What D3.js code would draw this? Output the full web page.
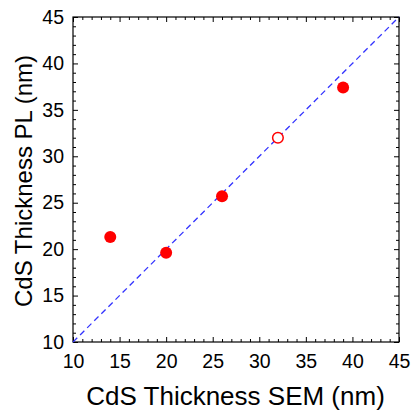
<!DOCTYPE html>
<html>
<head>
<meta charset="utf-8">
<script src="https://cdn.jsdelivr.net/npm/d3@7/dist/d3.min.js"></script>
<style>
  body { margin: 0; background: #fff; }
  svg text { font-family: "Liberation Sans", Arial, sans-serif; fill: #000; }
</style>
</head>
<body>
<div id="chart"></div>
<script>
// measured points, SEM vs PL thickness (nm)
var semThickness = [14, 20, 26, 32, 39];
var plThickness = [21.3, 19.6, 25.7, 32, 37.4];
var isOpen = [false, false, false, true, false];
var tickValues = [10, 15, 20, 25, 30, 35, 40, 45];
var axisRange = [10, 45];

var width = 412, height = 413;
var margin = {left: 73, right: 13, top: 17, bottom: 71};

var svg = d3.select('#chart').append('svg')
    .attr('width', width)
    .attr('height', height);

var x = d3.scaleLinear().domain(axisRange).range([margin.left, width - margin.right]);
var y = d3.scaleLinear().domain(axisRange).range([height - margin.bottom, margin.top]);

var minorTicks = d3.range(axisRange[0], axisRange[1] + 1, 1).filter(d => d % 5 != 0);

// axes - ticks point inward on all sides
function styleAxis(g){
    g.select('.domain').remove();
    g.selectAll('line').attr('stroke', '#000').attr('stroke-width', 1);
}

var bottomY = height - margin.bottom, rightX = width - margin.right;

svg.append('g').attr('transform', 'translate(0,' + bottomY + ')')
    .call(d3.axisBottom(x).tickValues(tickValues).tickSizeInner(-5).tickSizeOuter(0).tickPadding(12))
    .call(styleAxis)
    .call(g => g.selectAll('text').attr('font-size', '19.5px'));
svg.append('g').attr('transform', 'translate(0,' + bottomY + ')')
    .call(d3.axisBottom(x).tickValues(minorTicks).tickSizeInner(-3).tickSizeOuter(0).tickFormat(''))
    .call(styleAxis);

svg.append('g').attr('transform', 'translate(' + margin.left + ',0)')
    .call(d3.axisLeft(y).tickValues(tickValues).tickSizeInner(-5).tickSizeOuter(0).tickPadding(9))
    .call(styleAxis)
    .call(g => g.selectAll('text').attr('font-size', '19.5px'));
svg.append('g').attr('transform', 'translate(' + margin.left + ',0)')
    .call(d3.axisLeft(y).tickValues(minorTicks).tickSizeInner(-3).tickSizeOuter(0).tickFormat(''))
    .call(styleAxis);

svg.append('g').attr('transform', 'translate(0,' + margin.top + ')')
    .call(d3.axisTop(x).tickValues(tickValues).tickSizeInner(-5).tickSizeOuter(0).tickFormat(''))
    .call(styleAxis);
svg.append('g').attr('transform', 'translate(0,' + margin.top + ')')
    .call(d3.axisTop(x).tickValues(minorTicks).tickSizeInner(-3).tickSizeOuter(0).tickFormat(''))
    .call(styleAxis);

svg.append('g').attr('transform', 'translate(' + rightX + ',0)')
    .call(d3.axisRight(y).tickValues(tickValues).tickSizeInner(-5).tickSizeOuter(0).tickFormat(''))
    .call(styleAxis);
svg.append('g').attr('transform', 'translate(' + rightX + ',0)')
    .call(d3.axisRight(y).tickValues(minorTicks).tickSizeInner(-3).tickSizeOuter(0).tickFormat(''))
    .call(styleAxis);

// frame
svg.append('rect')
    .attr('x', margin.left).attr('y', margin.top)
    .attr('width', rightX - margin.left).attr('height', bottomY - margin.top)
    .attr('fill', 'none').attr('stroke', '#000').attr('stroke-width', 1.2);

// y = x reference line
svg.append('line')
    .attr('x1', x(axisRange[0])).attr('y1', y(axisRange[0]))
    .attr('x2', x(axisRange[1])).attr('y2', y(axisRange[1]))
    .attr('stroke', '#3333ff').attr('stroke-width', 1.3)
    .attr('stroke-dasharray', '6,4');

// points
var pts = semThickness.map((d, i) => ({sem: d, pl: plThickness[i], open: isOpen[i]}));
svg.append('g').selectAll('circle').data(pts).enter().append('circle')
    .attr('cx', d => x(d.sem))
    .attr('cy', d => y(d.pl))
    .attr('r', d => d.open ? 5.3 : 6)
    .attr('fill', d => d.open ? '#fff' : '#ff0000')
    .attr('stroke', '#ff0000')
    .attr('stroke-width', d => d.open ? 1.5 : 0);

// axis titles
svg.append('text')
    .attr('x', 235.5).attr('y', 405)
    .attr('text-anchor', 'middle').attr('font-size', '26px')
    .text('CdS Thickness SEM (nm)');
svg.append('text')
    .attr('transform', 'translate(32,181) rotate(-90)')
    .attr('text-anchor', 'middle').attr('font-size', '24px')
    .text('CdS Thickness PL (nm)');
</script>
</body>
</html>
